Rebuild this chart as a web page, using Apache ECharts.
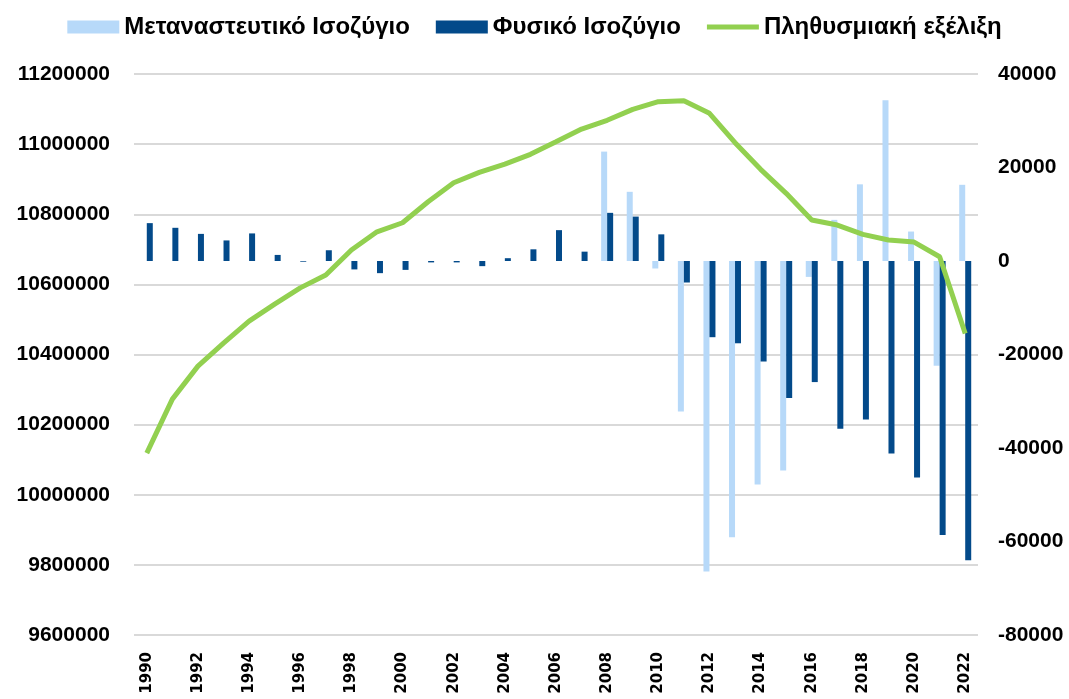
<!DOCTYPE html>
<html>
<head>
<meta charset="utf-8">
<style>
  html, body { margin: 0; padding: 0; background: #fff; }
  #chart-container { width: 1069px; height: 699px; }
</style>
<script src="https://cdn.jsdelivr.net/npm/echarts@6/dist/echarts.min.js"></script>
</head>
<body>
<div id="chart-container"></div>
<script>
var years = [];
for (var y = 1990; y <= 2022; y++) years.push(String(y));

// Μεταναστευτικό Ισοζύγιο (right axis), shown from 2008
var migration = [
  null, null, null, null, null, null, null, null, null, null,
  null, null, null, null, null, null, null, null,
  23400, 14800, -1600, -32200, -66400, -59100, -47800, -44800,
  -3400, 8800, 16400, 34400, 6300, -22400, 16300
];

// Φυσικό Ισοζύγιο (right axis)
var natural = [
  8100, 7100, 5800, 4400, 5900, 1300, -150, 2300, -1800, -2600,
  -1900, -300, -300, -1100, 600, 2500, 6600, 2000,
  10300, 9500, 5700, -4600, -16300, -17600, -21500, -29300,
  -25900, -35900, -33900, -41200, -46300, -58600, -64000
];

// Πληθυσμιακή εξέλιξη (left axis)
var population = [
  10118700, 10272800, 10366900, 10432600, 10495300, 10543800, 10590000, 10626500,
  10697900, 10750000, 10775800, 10835700, 10889900, 10919500, 10943200, 10970900,
  11006900, 11043100, 11067900, 11099200, 11121000, 11123800, 11087900, 11004000,
  10928100, 10859600, 10783500, 10769200, 10742600, 10726400, 10720700, 10678800,
  10459700
];

var dom = document.getElementById("chart-container");
var myChart = echarts.init(dom, null, { renderer: "canvas" });

var labelFont = {
  color: "#000",
  fontWeight: "bold",
  fontFamily: "Liberation Sans",
  fontSize: 21,
  formatter: function (v) { return String(v); }
};

// thin bar inside a 52x13 box, so the legend shows a line
var lineIcon = "path://M0,0L0,0.01M0,4L52,4L52,9L0,9ZM52,13L52,13.01";

var option = {
  animation: false,
  backgroundColor: "#fff",
  legend: {
    top: 10,
    left: "center",
    itemWidth: 52,
    itemHeight: 13,
    itemGap: 26,
    textStyle: {
      color: "#000",
      fontWeight: "bold",
      fontFamily: "Liberation Sans",
      fontSize: 24
    },
    data: [
      { name: "Μεταναστευτικό Ισοζύγιο", icon: "rect" },
      { name: "Φυσικό Ισοζύγιο", icon: "rect" },
      { name: "Πληθυσμιακή εξέλιξη", icon: lineIcon }
    ]
  },
  grid: { left: 134, right: 91, top: 74, bottom: 64 },
  xAxis: {
    type: "category",
    data: years,
    axisLine: { show: false },
    axisTick: { show: false },
    axisLabel: {
      interval: 1,
      rotate: 90,
      margin: 17,
      color: "#000",
      fontWeight: "bold",
      fontFamily: "DejaVu Sans",
      fontSize: 15
    }
  },
  yAxis: [
    {
      type: "value",
      min: 9600000,
      max: 11200000,
      interval: 200000,
      axisLine: { show: false },
      axisTick: { show: false },
      splitLine: { lineStyle: { color: "#d9d9d9", width: 2 } },
      axisLabel: Object.assign({ margin: 24 }, labelFont)
    },
    {
      type: "value",
      min: -80000,
      max: 40000,
      interval: 20000,
      axisLine: { show: false },
      axisTick: { show: false },
      splitLine: { show: false },
      axisLabel: Object.assign({ margin: 20 }, labelFont)
    }
  ],
  series: [
    {
      name: "Μεταναστευτικό Ισοζύγιο",
      type: "bar",
      yAxisIndex: 1,
      barWidth: 6,
      barGap: "0%",
      itemStyle: { color: "#b7d9f9" },
      data: migration
    },
    {
      name: "Φυσικό Ισοζύγιο",
      type: "bar",
      yAxisIndex: 1,
      barWidth: 6,
      barGap: "0%",
      itemStyle: { color: "#034a8a" },
      data: natural
    },
    {
      name: "Πληθυσμιακή εξέλιξη",
      type: "line",
      yAxisIndex: 0,
      symbol: "none",
      itemStyle: { color: "#92d050" },
      lineStyle: { color: "#92d050", width: 5 },
      z: 5,
      data: population
    }
  ]
};

myChart.setOption(option);
window.addEventListener("resize", myChart.resize);
</script>
</body>
</html>
